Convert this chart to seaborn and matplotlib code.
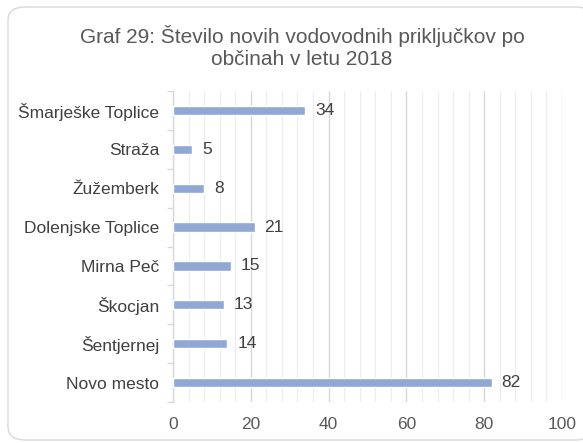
import matplotlib
matplotlib.use("Agg")
import matplotlib.pyplot as plt
from matplotlib.patches import FancyBboxPatch
from matplotlib.ticker import MultipleLocator
import seaborn as sns
import pandas as pd

municipalities = ["Šmarješke Toplice", "Straža", "Žužemberk", "Dolenjske Toplice",
                  "Mirna Peč", "Škocjan", "Šentjernej", "Novo mesto"]
connections = [34, 5, 8, 21, 15, 13, 14, 82]
x_ticks = [0, 20, 40, 60, 80, 100]

df = pd.DataFrame({"obcina": municipalities, "prikljucki": connections})

sns.set_theme(style="white")
plt.rcParams["font.family"] = ["Liberation Sans", "DejaVu Sans"]

fig = plt.figure(figsize=(5.83, 4.43), dpi=100)
ax = fig.add_axes([173 / 583, 1 - 402 / 443, (562 - 173) / 583, (402 - 91) / 443])

# rounded chart frame (right side runs past the canvas edge)
frame = FancyBboxPatch((8 / 583, 3 / 443), 585 / 583, 433 / 443,
                       boxstyle="round,pad=0,rounding_size=0.03",
                       transform=fig.transFigure, facecolor="white",
                       edgecolor="#d9d9d9", linewidth=1.0, zorder=-10)
fig.patches.append(frame)

sns.barplot(data=df, y="obcina", x="prikljucki", orient="h", color="#90a8d3",
            width=0.24, saturation=1, ax=ax, zorder=3)

for i, v in enumerate(connections):
    ax.text(v + 2.5, i, str(v), va="center", ha="left", fontsize=12.5, color="#404040")

ax.set_xlim(0, 100)
ax.set_ylim(7.5, -0.5)
ax.set_xticks(x_ticks)
ax.xaxis.set_minor_locator(MultipleLocator(4))
ax.grid(axis="x", which="major", color="#d9d9d9", linewidth=1.0, zorder=0)
ax.grid(axis="x", which="minor", color="#ececec", linewidth=0.8, zorder=0)
ax.set_axisbelow(True)

for s in ["top", "right", "bottom"]:
    ax.spines[s].set_visible(False)
ax.spines["left"].set_color("#d9d9d9")
ax.spines["left"].set_linewidth(1.0)

# category separator ticks on the value axis
ax.set_yticks([i + 0.5 for i in range(-1, 8)], minor=True)
ax.tick_params(axis="y", which="minor", left=True, length=4, color="#d9d9d9", width=1)
ax.tick_params(axis="y", which="major", left=False, length=0, labelsize=12.5,
               labelcolor="#404040", pad=10)
ax.tick_params(axis="x", which="both", bottom=False, length=0, labelsize=12.5,
               labelcolor="#595959", pad=11)

ax.set_xlabel("")
ax.set_ylabel("")

fig.text(302 / 583, 1 - 47 / 443, "Graf 29: Število novih vodovodnih priključkov po\nobčinah v letu 2018",
         ha="center", va="center", fontsize=15, color="#595959", linespacing=1.15)

fig.savefig("out.png", dpi=100)
